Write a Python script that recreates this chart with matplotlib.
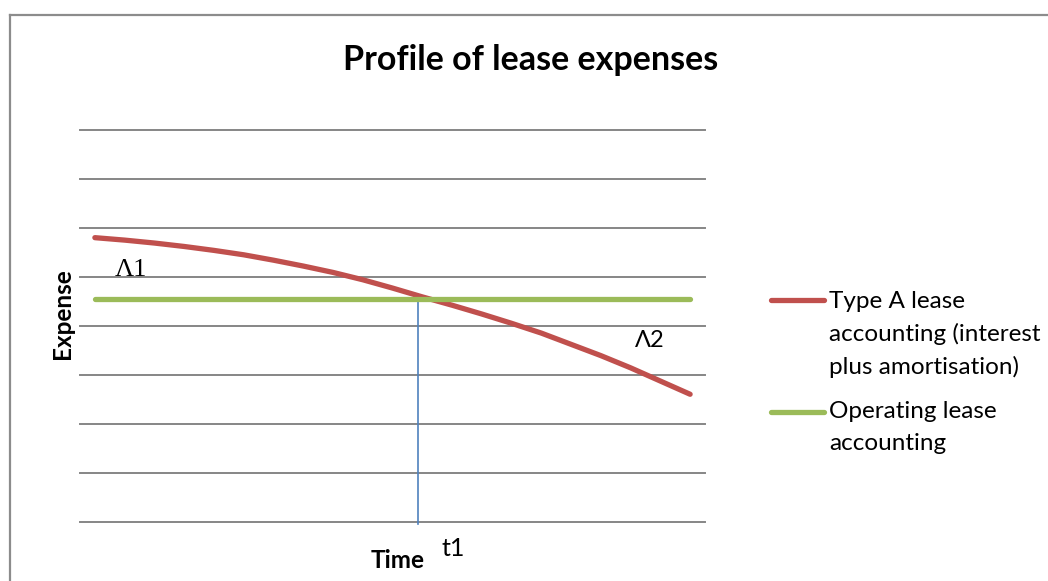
import numpy as np
import matplotlib
matplotlib.use("Agg")
from matplotlib import pyplot as plt
from matplotlib.lines import Line2D

# data (arbitrary expense units, 21 time steps)
periods = np.arange(21)
type_a = [5.80, 5.75, 5.69, 5.62, 5.54, 5.45, 5.34, 5.22, 5.09, 4.94, 4.77,
          4.59, 4.42, 4.24, 4.05, 3.85, 3.62, 3.39, 3.14, 2.87, 2.60]
operating = [4.55] * 21
t1_pos = 10.86
grid_levels = range(9)

red = '#C0504D'
green = '#9BBB59'
blue = '#4F81BD'
gridc = '#868686'
font = ['Lato', 'DejaVu Sans']

W, H = 1048, 581
fig = plt.figure(figsize=(W / 100, H / 100), dpi=100)
ax = fig.add_axes([80 / W, 1 - 521.5 / H, 625 / W, (521.5 - 130) / H])

for v in grid_levels:
    ax.axhline(v, color=gridc, lw=1.4, clip_on=False, zorder=1)

ax.plot(periods, type_a, color=red, lw=3.8, solid_capstyle='round', zorder=3)
ax.plot(periods, operating, color=green, lw=3.8, solid_capstyle='round', zorder=3)
ax.plot([t1_pos, t1_pos], [operating[0], -0.06], color=blue, lw=1.2,
        clip_on=False, zorder=2)

ax.set_xlim(-0.5, 20.5)
ax.set_ylim(0, 8)
ax.set_xticks([])
ax.set_yticks([])
for s in ax.spines.values():
    s.set_visible(False)

ax.text(1.21, 5.14, '\u039b1', family=['Liberation Serif', 'DejaVu Serif'],
        fontsize=19, ha='center', va='center')
ax.text(18.65, 3.70, '\u039b2', family=font, fontsize=17, ha='center', va='center')

fig.text(531 / W, 1 - 60 / H, 'Profile of lease expenses', family=font,
         fontsize=24.5, fontweight='bold', ha='center', va='center')
fig.text(398 / W, 1 - 560 / H, 'Time', family=font, fontsize=17.5,
         fontweight='bold', ha='center', va='center')
fig.text(453 / W, 1 - 548 / H, 't1', family=font, fontsize=18,
         ha='center', va='center')
fig.text(62 / W, 1 - 314 / H, 'Expense', family=font, fontsize=17.5,
         fontweight='bold', ha='center', va='center', rotation=90)

# legend drawn by hand to mimic the Excel layout
fig.add_artist(Line2D([771 / W, 824 / W], [1 - 300 / H, 1 - 300 / H],
                      color=red, lw=3.8, solid_capstyle='round'))
fig.add_artist(Line2D([771 / W, 824 / W], [1 - 412 / H, 1 - 412 / H],
                      color=green, lw=3.8, solid_capstyle='round'))
for i, line in enumerate(['Type A lease', 'accounting (interest',
                          'plus amortisation)']):
    fig.text(829 / W, 1 - (301 + 33 * i) / H, line, family=font,
             fontsize=17.5, ha='left', va='center')
for i, line in enumerate(['Operating lease', 'accounting']):
    fig.text(829 / W, 1 - (412 + 31 * i) / H, line, family=font,
             fontsize=17.5, ha='left', va='center')

# outer chart frame (right and bottom edges fall outside the picture)
fig.add_artist(Line2D([10 / W, 1], [1 - 15 / H, 1 - 15 / H], color='#8c8c8c', lw=1.6))
fig.add_artist(Line2D([10 / W, 10 / W], [0, 1 - 15 / H], color='#8c8c8c', lw=1.6))

fig.savefig('out.png', dpi=100)
